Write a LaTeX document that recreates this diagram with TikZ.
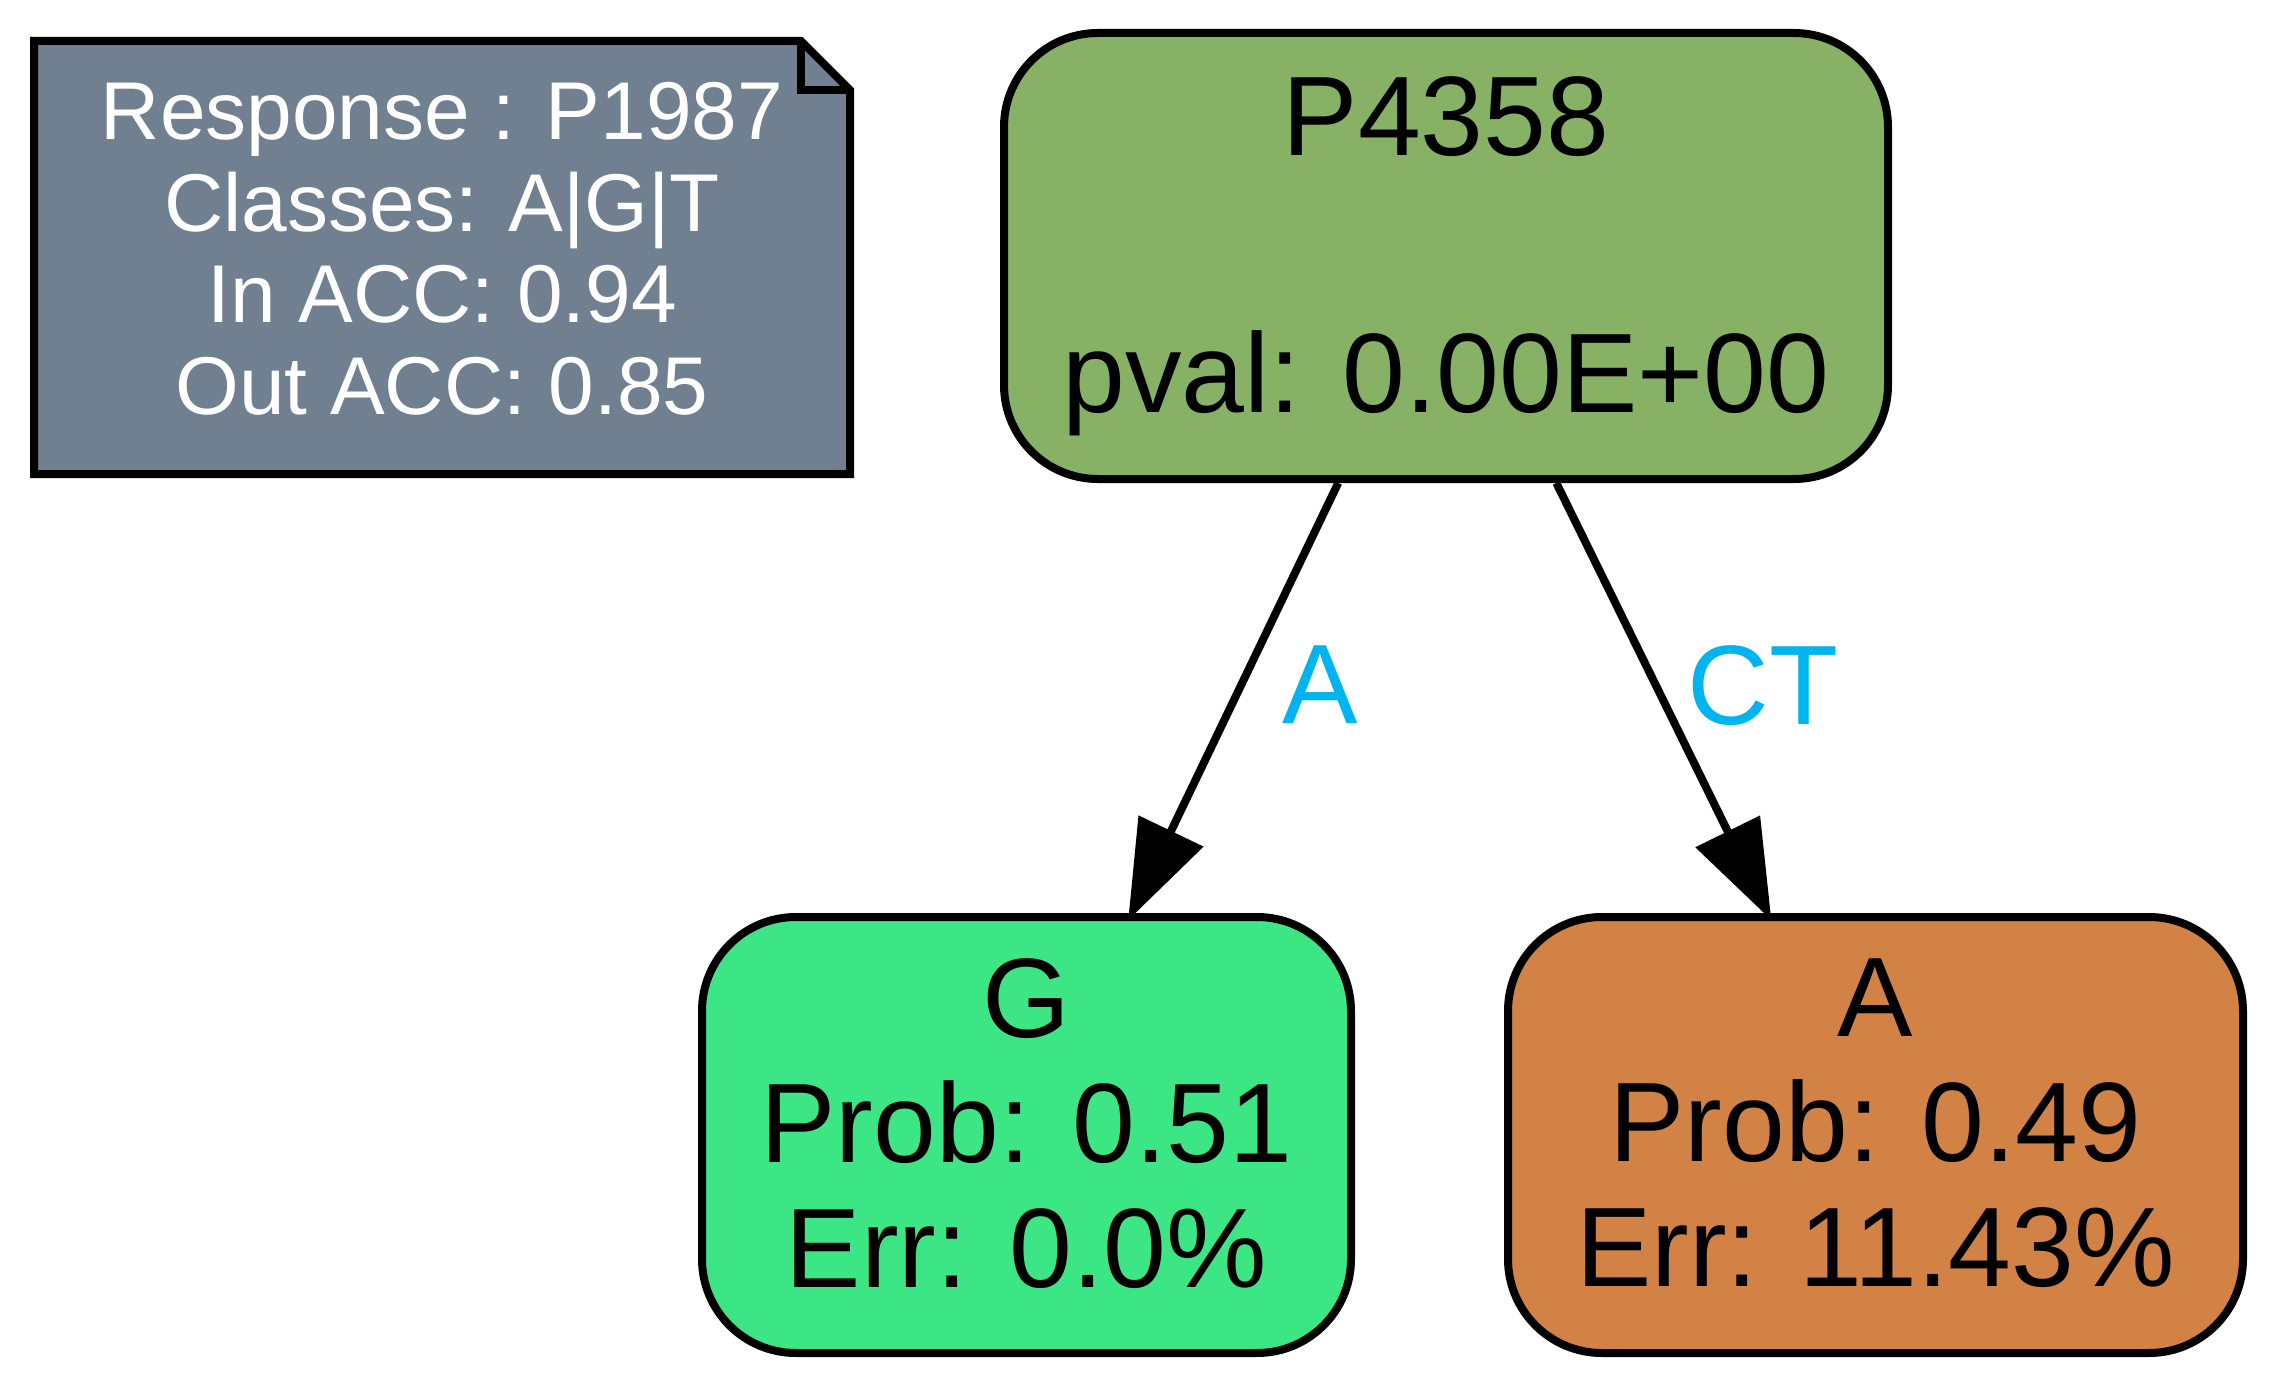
\documentclass[tikz,border=0pt]{standalone}
\usepackage{fontspec}
\setmainfont{Liberation Sans}
\usetikzlibrary{arrows.meta,backgrounds}
\definecolor{slate}{HTML}{708090}
\definecolor{splitgreen}{HTML}{87B266}
\definecolor{leafgreen}{HTML}{3DE684}
\definecolor{leaforange}{HTML}{D38246}
\definecolor{edgeblue}{HTML}{00B4F0}

\begin{document}
\begin{tikzpicture}[x=1pt,y=-1pt,line width=8pt,
  note/.style = {minimum width=816pt, minimum height=433pt, outer sep=0pt, inner sep=0pt, text=white, align=center, font=\fontsize{82}{91.7}\selectfont},
  main/.style = {draw, rounded corners=94pt, inner sep=0pt, align=center, font=\fontsize{113}{125}\selectfont},
  lbl/.style = {text=edgeblue, inner sep=0pt, font=\fontsize{113}{125}\selectfont},
  >={Triangle[length=99pt,width=70pt]}]
\useasboundingbox (0,0) rectangle (2279,1388);
\node[note] (0) at (442,257.5) {Response : P1987\\Classes: A|G|T\\In ACC: 0.94\\Out ACC: 0.85\rule[-18pt]{0pt}{0pt}};
\begin{scope}[on background layer]
\filldraw[fill=slate, line width=8pt] (0.south west) -- (0.north west) -- ([xshift=-49pt]0.north east) -- ([yshift=-49pt]0.north east) -- (0.south east) -- cycle;
\end{scope}
\draw ([xshift=-49pt]0.north east) |- ([yshift=-49pt]0.north east);
\node[main, fill=splitgreen, minimum width=884pt, minimum height=446pt] (1) at (1446,256) {P4358\\[132pt]pval: 0.00E+00};
\node[main, fill=leafgreen, minimum width=649pt, minimum height=436pt] (2) at (1026.5,1135) {G\\Prob: 0.51\\Err: 0.0\%\rule[-24pt]{0pt}{0pt}};
\node[main, fill=leaforange, minimum width=735pt, minimum height=436pt] (3) at (1875.5,1135) {A\\Prob: 0.49\\Err: 11.43\%\rule[-24pt]{0pt}{0pt}};
\draw[->, shorten >=-8pt] (1) -- node[lbl, pos=0.47, right=37pt] {A} (2);
\draw[->, shorten >=-8pt] (1) -- node[lbl, pos=0.47, right=28pt] {CT} (3);
\end{tikzpicture}
\end{document}
